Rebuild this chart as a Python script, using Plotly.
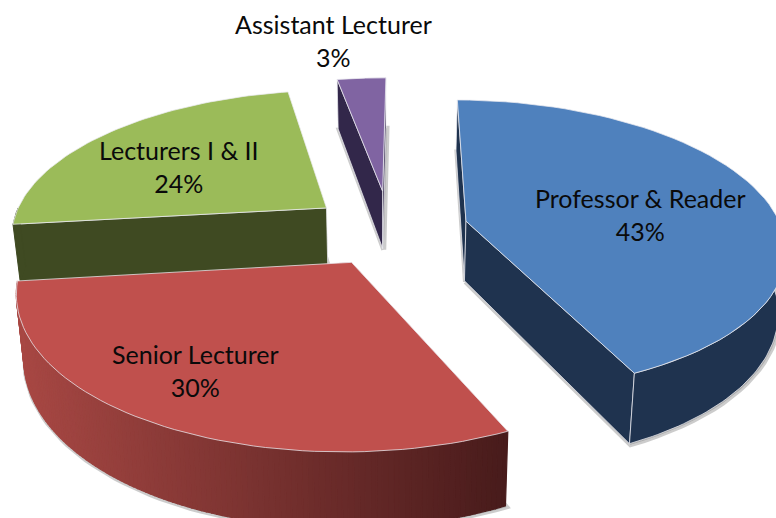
import math
import plotly.graph_objects as go

categories = ["Professor & Reader", "Senior Lecturer", "Lecturers I & II", "Assistant Lecturer"]
values = [43, 30, 24, 3]

top_colors = ["#4F81BD", "#C0504D", "#9BBB59", "#8064A2"]
wall_colors = ["#1F334F", "#A84844", "#3F4A22", "#32274A"]
explode = [0.245, 0.27, 0.243, 0.255]
explode_dir = [82, 205.7, 302, 354.5]
label_pos = [(640, 214), (195, 370), (179, 166), (333, 40)]

CX, CY, R, K, P, H, SHRINK = 390, 226, 315, 0.455, 0.17, 60, 0.02
START = 0.5
EDGE = "rgba(235,235,240,0.75)"


def proj(X, Y, h=0.0):
    s = 1 / (1 + P * Y)
    return CX + R * X * s * (1 - SHRINK * h), CY - R * Y * K * s + H * h * s


def slice_point(a, e, d, r=1.0):
    return (e * math.sin(d) + r * math.sin(a), e * math.cos(d) + r * math.cos(a))


fig = go.Figure()


def poly(points, fill, line=None, width=1.0):
    xs = [p[0] for p in points] + [points[0][0]]
    ys = [p[1] for p in points] + [points[0][1]]
    fig.add_trace(go.Scatter(x=xs, y=ys, mode="lines", fill="toself", fillcolor=fill,
                             line=dict(color=line or fill, width=width),
                             hoverinfo="skip", showlegend=False))


def lerp(c1, c2, t):
    return "rgb(%d,%d,%d)" % tuple(round(a + (b - a) * t) for a, b in zip(c1, c2))


def faces_viewer(normal_angle, apex):
    nx, ny = math.sin(normal_angle), math.cos(normal_angle)
    return nx * (0 - apex[0]) + ny * (-1 / P - apex[1]) > 0


geom = []
a0 = START
for v, e, d in zip(values, explode, explode_dir):
    sweep = v / sum(values) * 360
    a1 = a0 + sweep
    geom.append((math.radians(a0), math.radians(a1), e, math.radians(d)))
    a0 = a1

order = [3, 2, 0, 1]

# soft halo shadow around each slice's underside
for i in order:
    s, t, e, d = geom[i]
    n = 60
    arc = [slice_point(s + (t - s) * j / n, e, d) for j in range(n + 1)]
    apex = slice_point(0, e, d, 0)
    pts = [proj(*apex, 1)] + [proj(*q, 1) for q in arc]
    poly([(x + 1, y + 1) for x, y in pts], "rgba(110,110,110,0.35)", "rgba(110,110,110,0.35)", 5)

for i in order:
    s, t, e, d = geom[i]
    apex = slice_point(0, e, d, 0)
    n = 60
    angs = [s + (t - s) * j / n for j in range(n + 1)]
    arc = [slice_point(a, e, d) for a in angs]
    ps, pe = arc[0], arc[-1]
    # radial walls, only those that face the viewer
    if faces_viewer(s - math.pi / 2, apex):
        poly([proj(*apex), proj(*ps), proj(*ps, 1), proj(*apex, 1)], wall_colors[i], EDGE, 1)
    if faces_viewer(t + math.pi / 2, apex):
        poly([proj(*apex), proj(*pe), proj(*pe, 1), proj(*apex, 1)], wall_colors[i], EDGE, 1)
    # outer wall, front half only
    lo, hi = max(s, math.pi / 2), min(t, 3 * math.pi / 2)
    if hi > lo:
        if i == 1:
            steps = 130
            for j in range(steps):
                b0 = lo + (hi - lo) * j / steps
                b1 = lo + (hi - lo) * (j + 1) / steps
                q0, q1 = slice_point(b0, e, d), slice_point(b1, e, d)
                tt = proj(*q0)[0]
                u = (tt - 17) / (510 - 17)
                col = lerp((168, 72, 68), (72, 27, 27), min(max(u, 0), 1))
                poly([proj(*q0), proj(*q1), proj(*q1, 1), proj(*q0, 1)], col, col, 1.2)
        else:
            w = [lo + (hi - lo) * j / n for j in range(n + 1)]
            q = [slice_point(a, e, d) for a in w]
            edge = EDGE if i == 0 else None
            poly([proj(*x) for x in q] + [proj(*x, 1) for x in reversed(q)], wall_colors[i], edge, 1)
    # top face
    poly([proj(*apex)] + [proj(*q) for q in arc], top_colors[i], EDGE, 1)

for name, v, (lx, ly) in zip(categories, values, label_pos):
    fig.add_annotation(x=lx, y=ly, xref="x", yref="y", text=f"{name}<br>{v}%", showarrow=False,
                       font=dict(family="Lato", size=25, color="#0a0a0a"), align="center")

fig.update_layout(width=776, height=518, margin=dict(l=0, r=0, t=0, b=0),
                  paper_bgcolor="white", plot_bgcolor="white", showlegend=False,
                  xaxis=dict(range=[0, 776], visible=False, fixedrange=True),
                  yaxis=dict(range=[518, 0], visible=False, fixedrange=True))
fig.write_html("out.html", config=dict(displayModeBar=False),
               post_script="document.body.style.margin='0';document.body.style.overflow='hidden';")
